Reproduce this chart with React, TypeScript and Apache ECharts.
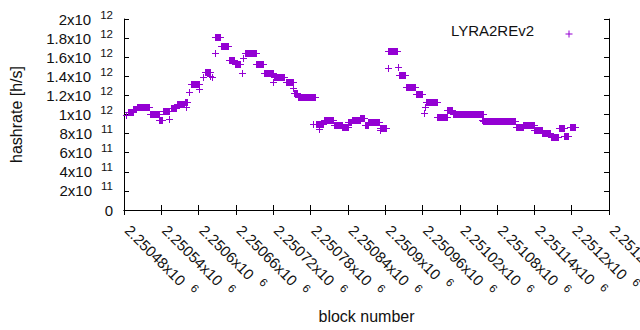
import React, { useEffect, useRef } from "react";
import * as echarts from "echarts";

// Runs of consecutive blocks sharing the same hashrate estimate (start block, end block, value in h/s)
const runStart = [
  2250484, 2250486, 2250495, 2250501, 2250522, 2250536, 2250553, 2250543, 2250556, 2250565,
  2250578, 2250580, 2250585, 2250588, 2250601, 2250607, 2250610, 2250619, 2250622, 2250626,
  2250627, 2250636, 2250649, 2250658, 2250669, 2250672, 2250674, 2250693, 2250705, 2250720,
  2250721, 2250741, 2250752, 2250753, 2250760, 2250784, 2250793, 2250788, 2250801, 2250817,
  2250831, 2250841, 2250846, 2250860, 2250867, 2250873, 2250891, 2250892, 2250904, 2250905,
  2250921, 2250923, 2250934, 2250949, 2250963, 2250964, 2250966, 2250984, 2251000, 2251009,
  2251055, 2251058, 2251110, 2251122, 2251140, 2251153, 2251166, 2251180, 2251188, 2251197,
];
const runEnd = [
  2250484, 2250494, 2250500, 2250521, 2250537, 2250541, 2250553, 2250553, 2250564, 2250577,
  2250582, 2250580, 2250585, 2250600, 2250601, 2250607, 2250618, 2250619, 2250622, 2250626,
  2250635, 2250648, 2250657, 2250667, 2250669, 2250672, 2250692, 2250704, 2250719, 2250720,
  2250738, 2250751, 2250752, 2250759, 2250787, 2250784, 2250793, 2250800, 2250816, 2250830,
  2250840, 2250845, 2250859, 2250866, 2250872, 2250890, 2250891, 2250902, 2250904, 2250919,
  2250921, 2250932, 2250948, 2250960, 2250963, 2250964, 2250983, 2250999, 2251008, 2251057,
  2251055, 2251109, 2251121, 2251139, 2251152, 2251165, 2251178, 2251187, 2251194, 2251205,
];
const runValue = [
  0.995e12, 1.03e12, 1.06e12, 1.075e12, 1.01e12, 0.945e12, 0.95e12, 1.034e12, 1.07e12, 1.107e12,
  1.128e12, 1.08e12, 1.24e12, 1.316e12, 1.264e12, 1.396e12, 1.448e12, 1.406e12, 1.389e12, 1.64e12,
  1.808e12, 1.714e12, 1.567e12, 1.526e12, 1.431e12, 1.588e12, 1.64e12, 1.526e12, 1.434e12, 1.344e12,
  1.396e12, 1.344e12, 1.274e12, 1.222e12, 1.18e12, 0.897e12, 0.845e12, 0.897e12, 0.939e12, 0.887e12,
  0.866e12, 0.925e12, 0.939e12, 0.966e12, 0.89e12, 0.918e12, 0.838e12, 0.855e12, 1.484e12, 1.662e12,
  1.5e12, 1.414e12, 1.288e12, 1.211e12, 1.012e12, 1.08e12, 1.134e12, 0.97e12, 1.044e12, 1.002e12,
  0.942e12, 0.932e12, 0.869e12, 0.89e12, 0.834e12, 0.803e12, 0.761e12, 0.855e12, 0.775e12, 0.866e12,
];

const seriesName = "LYRA2REv2";
const xMin = 2250480;
const xMax = 2251260;
const xStep = 60;
const yMin = 0;
const yMax = 2e12;
const yStep = 2e11;

const COLOR = "#9400d3";
const FONT = "Liberation Sans, Arial, sans-serif";
const TEXT = "#111";

function sciLabel(v: number): string {
  if (v === 0) return "{m|0}";
  const e = Math.floor(Math.log10(v) + 1e-9);
  const m = parseFloat((v / Math.pow(10, e)).toPrecision(6));
  return `{m|${m}x10}{e|${e}}`;
}

const supStyle = { fontSize: 11.5, fontFamily: FONT, color: TEXT, padding: [0, 0, 9, 9], verticalAlign: "bottom" };
const yRich = {
  m: { fontSize: 15, fontFamily: FONT, color: TEXT },
  e: supStyle,
};
const xRich = {
  m: { fontSize: 15, fontFamily: FONT, color: TEXT, padding: [0, 0, 0, 5] },
  e: supStyle,
};

export default function App() {
  const ref = useRef<HTMLDivElement>(null);
  useEffect(() => {
    if (!ref.current) return;
    const chart = echarts.init(ref.current, undefined, { renderer: "svg" });
    const data = runStart.map((s, i) => [s, runEnd[i], runValue[i]]);
    const axisCommon = {
      axisLine: { show: true, lineStyle: { color: "#000", width: 1 } },
      axisTick: { show: true, inside: true, length: 5, lineStyle: { color: "#000" } },
      splitLine: { show: false },
    };
    chart.setOption({
      animation: false,
      backgroundColor: "#fff",
      grid: { left: 124, right: 31, top: 19, bottom: 120, containLabel: false, outerBoundsMode: "none" },
      legend: { show: false },
      graphic: [
        {
          type: "text",
          right: 106,
          top: 23,
          style: { text: seriesName, fontSize: 15, fontFamily: FONT, fill: TEXT },
        },
        {
          type: "group",
          left: 563,
          top: 28,
          children: [
            { type: "line", shape: { x1: 0, y1: 3.5, x2: 7, y2: 3.5 }, style: { stroke: COLOR, lineWidth: 1 } },
            { type: "line", shape: { x1: 3.5, y1: 0, x2: 3.5, y2: 7 }, style: { stroke: COLOR, lineWidth: 1 } },
          ],
        },
      ],
      xAxis: [
        {
          type: "value",
          min: xMin,
          max: xMax,
          interval: xStep,
          position: "bottom",
          ...axisCommon,
          axisLabel: {
            rotate: -45,
            margin: 14,
            showMaxLabel: true,
            formatter: (v: number) => sciLabel(v),
            rich: xRich,
          },
          name: "block number",
          nameLocation: "middle",
          nameGap: 98,
          nameTextStyle: { fontSize: 16, fontFamily: FONT, color: TEXT },
        },
        {
          type: "value",
          min: xMin,
          max: xMax,
          interval: xStep,
          position: "top",
          ...axisCommon,
          axisLabel: { show: false },
        },
      ],
      yAxis: [
        {
          type: "value",
          min: yMin,
          max: yMax,
          interval: yStep,
          position: "left",
          ...axisCommon,
          axisLabel: {
            margin: 11,
            formatter: (v: number) => sciLabel(v),
            rich: yRich,
          },
          name: "hashrate [h/s]",
          nameLocation: "middle",
          nameGap: 100,
          nameTextStyle: { fontSize: 16, fontFamily: FONT, color: TEXT },
        },
        {
          type: "value",
          min: yMin,
          max: yMax,
          interval: yStep,
          position: "right",
          ...axisCommon,
          axisLabel: { show: false },
        },
      ],
      series: [
        {
          type: "custom",
          name: seriesName,
          xAxisIndex: 0,
          yAxisIndex: 0,
          itemStyle: { color: COLOR },
          encode: { x: [0, 1], y: 2 },
          data,
          renderItem: (params: any, api: any) => {
            const s = api.coord([api.value(0), api.value(2)]);
            const e = api.coord([api.value(1), api.value(2)]);
            const x0 = Math.round(s[0]);
            const x1 = Math.round(e[0]);
            const yc = Math.round(s[1]);
            return {
              type: "group",
              children: [
                {
                  type: "rect",
                  shape: { x: x0, y: yc - 3, width: Math.max(1, x1 - x0 + 1), height: 7 },
                  style: { fill: COLOR },
                },
                {
                  type: "line",
                  shape: { x1: x0 - 3, y1: yc + 0.5, x2: x1 + 4, y2: yc + 0.5 },
                  style: { stroke: COLOR, lineWidth: 1 },
                },
              ],
            };
          },
        },
      ],
    });
    return () => chart.dispose();
  }, []);
  return (
    <div
      ref={ref}
      style={{ position: "fixed", left: 0, top: 0, width: 640, height: 330, background: "#fff" }}
    />
  );
}
